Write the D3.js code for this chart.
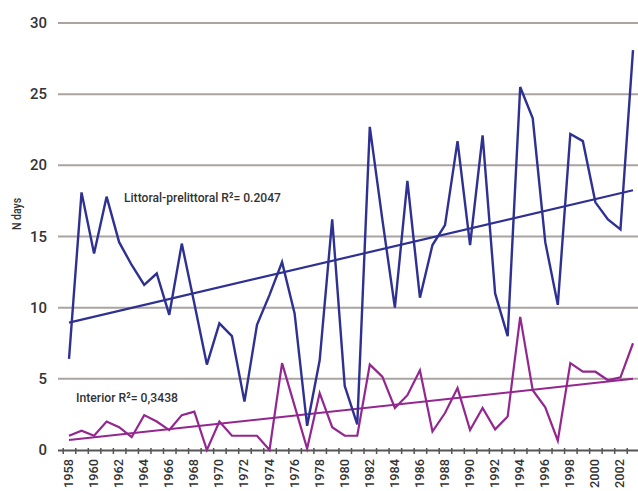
<!DOCTYPE html>
<html><head><meta charset="utf-8">
<script src="https://cdn.jsdelivr.net/npm/d3@7"></script>
<style>
body{margin:0;background:#fff;}
text{font-family:Roboto,"Liberation Sans",Arial,sans-serif;font-weight:500;}
</style></head>
<body><svg id="c" width="638" height="491"></svg>
<script>
const years = d3.range(1958, 2004);
const littoral = [6.4,18.1,13.8,17.8,14.6,13.0,11.6,12.4,9.5,14.5,10.3,6.0,8.9,8.0,3.4,8.8,10.9,13.2,9.6,1.7,6.3,16.2,4.5,1.8,22.7,16.2,10.0,18.9,10.7,14.4,15.8,21.7,14.4,22.1,11.0,8.0,25.5,23.3,14.6,10.2,22.2,21.7,17.4,16.2,15.5,28.1];
const interior = [1.0,1.35,1.0,2.0,1.6,0.9,2.45,2.0,1.4,2.45,2.7,0,2.0,1.0,1.0,1.0,0,6.1,3.1,0.1,4.0,1.6,1.0,1.0,6.0,5.15,2.95,3.85,5.6,1.3,2.6,4.35,1.4,2.95,1.45,2.35,9.35,4.2,3.0,0.65,6.1,5.5,5.5,4.9,5.1,7.5];
const trendLittoral = [8.95, 18.25];
const trendInterior = [0.7, 5.0];
const yTicks = [0,5,10,15,20,25,30];
const labelLittoral = "Littoral-prelittoral R²= 0.2047";
const labelInterior = "Interior R²= 0,3438";

const svg = d3.select("#c");
const x = d3.scaleLinear().domain([1958, 2003]).range([69, 633]);
const y = d3.scaleLinear().domain([0, 30]).range([450, 23]);

// gridlines
svg.append("g").selectAll("line").data(yTicks.filter(d=>d>0)).join("line")
  .attr("x1", 58).attr("x2", 638)
  .attr("y1", d=>y(d)).attr("y2", d=>y(d))
  .attr("stroke", "#aaa3a0").attr("stroke-width", 2);

// y labels
svg.append("g").selectAll("text").data(yTicks).join("text")
  .attr("x", 47).attr("y", d=>y(d)+5)
  .attr("text-anchor","end").attr("font-size", 14).attr("fill","#333")
  .attr("textLength", d=>String(d).length*8.5).attr("lengthAdjust","spacingAndGlyphs")
  .text(d=>d);

svg.append("text").attr("transform","translate(21,214) rotate(-90)")
  .attr("text-anchor","middle").attr("font-size",13).attr("fill","#333")
  .attr("textLength",32).attr("lengthAdjust","spacingAndGlyphs").text("N days");

// x axis (ticks between categories)
const tickPos = d3.range(1958, 2004).map(d=>d - 0.5);
const xAxis = d3.axisBottom(x).tickValues(tickPos.concat([2003.5])).tickSize(4).tickFormat("");
const gx = svg.append("g").attr("transform","translate(0,450)").call(xAxis);
gx.select(".domain").attr("d","M58,0.5H638").attr("stroke","#555").attr("stroke-width",2);
gx.selectAll(".tick line").attr("stroke","#555").attr("stroke-width",1.5).attr("y1",-2);

svg.append("g").selectAll("text").data(years.filter(d=>d%2===0)).join("text")
  .attr("transform", d=>`translate(${x(d)+4},459) rotate(-90)`)
  .attr("text-anchor","end").attr("font-size",13).attr("fill","#333")
  .attr("textLength",29).attr("lengthAdjust","spacingAndGlyphs")
  .text(d=>d);

const line = d3.line().x((d,i)=>x(years[i])).y(d=>y(d));

// trends
svg.append("line").attr("x1",x(1958)).attr("x2",x(2003))
  .attr("y1",y(trendLittoral[0])).attr("y2",y(trendLittoral[1]))
  .attr("stroke","#2e3192").attr("stroke-width",2.2);
svg.append("line").attr("x1",x(1958)).attr("x2",x(2003))
  .attr("y1",y(trendInterior[0])).attr("y2",y(trendInterior[1]))
  .attr("stroke","#93278f").attr("stroke-width",2);

svg.append("path").datum(littoral).attr("d",line)
  .attr("fill","none").attr("stroke","#2e3192").attr("stroke-width",2.4);
svg.append("path").datum(interior).attr("d",line)
  .attr("fill","none").attr("stroke","#93278f").attr("stroke-width",2.2);

svg.append("text").attr("x",124).attr("y",202).attr("font-size",13.5).attr("fill","#333")
  .attr("textLength",157).attr("lengthAdjust","spacingAndGlyphs").text(labelLittoral);
svg.append("text").attr("x",76).attr("y",402).attr("font-size",13.5).attr("fill","#333")
  .attr("textLength",102).attr("lengthAdjust","spacingAndGlyphs").text(labelInterior);
</script>
</body></html>
